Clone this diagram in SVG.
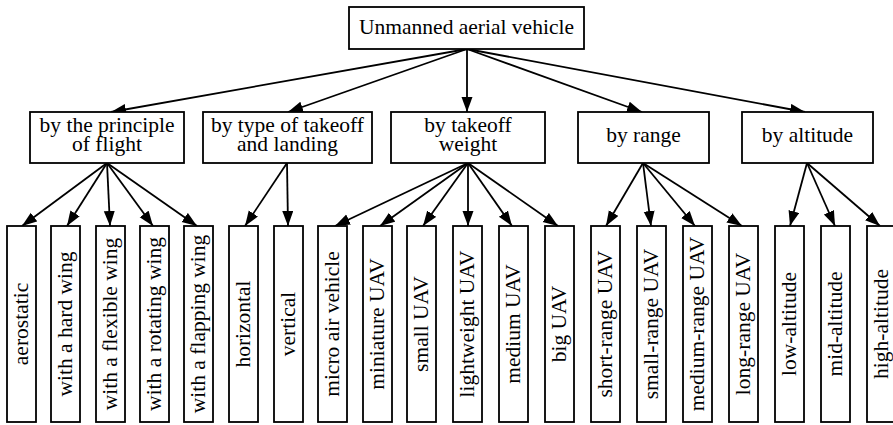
<svg xmlns="http://www.w3.org/2000/svg" width="893" height="425" viewBox="0 0 893 425">
<defs>
<style>
.box{fill:#fff;stroke:#000;stroke-width:1.8}
.t{font-family:"Liberation Serif","Times New Roman",serif;font-size:21.5px;fill:#000;text-anchor:middle}
.e{stroke:#000;stroke-width:1.8;fill:none;marker-end:url(#ah)}
</style>
<marker id="ah" markerUnits="userSpaceOnUse" markerWidth="16" markerHeight="12" refX="15" refY="5.5" orient="auto" viewBox="0 0 16 12">
<path d="M0,0 L15,5.5 L0,11 z" fill="#000"/>
</marker>
</defs>
<rect width="893" height="425" fill="#fff"/>
<g id="connectors">
<line class="e" x1="467" y1="49" x2="111" y2="112"/>
<line class="e" x1="467" y1="49" x2="288" y2="112"/>
<line class="e" x1="467" y1="49" x2="467" y2="112"/>
<line class="e" x1="467" y1="49" x2="642" y2="112"/>
<line class="e" x1="467" y1="49" x2="805" y2="112"/>
<line class="e" x1="107" y1="163" x2="22" y2="226"/>
<line class="e" x1="107" y1="163" x2="67" y2="226"/>
<line class="e" x1="107" y1="163" x2="110" y2="226"/>
<line class="e" x1="107" y1="163" x2="153" y2="226"/>
<line class="e" x1="107" y1="163" x2="197" y2="226"/>
<line class="e" x1="287" y1="163" x2="245" y2="226"/>
<line class="e" x1="287" y1="163" x2="288" y2="226"/>
<line class="e" x1="468" y1="163" x2="335" y2="226"/>
<line class="e" x1="468" y1="163" x2="380" y2="226"/>
<line class="e" x1="468" y1="163" x2="423" y2="226"/>
<line class="e" x1="468" y1="163" x2="468" y2="226"/>
<line class="e" x1="468" y1="163" x2="512" y2="226"/>
<line class="e" x1="468" y1="163" x2="558" y2="226"/>
<line class="e" x1="643" y1="163" x2="606" y2="226"/>
<line class="e" x1="643" y1="163" x2="651" y2="226"/>
<line class="e" x1="643" y1="163" x2="695" y2="226"/>
<line class="e" x1="643" y1="163" x2="742" y2="226"/>
<line class="e" x1="807" y1="163" x2="790" y2="226"/>
<line class="e" x1="807" y1="163" x2="835" y2="226"/>
<line class="e" x1="807" y1="163" x2="880" y2="226"/>
</g>
<g id="root"><rect class="box" x="349" y="7" width="235" height="42"/><text class="t" x="466.5" y="33.5">Unmanned aerial vehicle</text></g>
<g id="principle"><rect class="box" x="30" y="112" width="154" height="51"/><text class="t" x="107" y="132">by the principle</text><text class="t" x="107" y="150.5">of flight</text></g>
<g id="takeoff-landing"><rect class="box" x="203" y="112" width="169" height="51"/><text class="t" x="287.5" y="132">by type of takeoff</text><text class="t" x="287.5" y="150.5">and landing</text></g>
<g id="takeoff-weight"><rect class="box" x="391" y="112" width="154" height="51"/><text class="t" x="468" y="132">by takeoff</text><text class="t" x="468" y="150.5">weight</text></g>
<g id="range"><rect class="box" x="578" y="112" width="131" height="51"/><text class="t" x="643.5" y="142">by range</text></g>
<g id="altitude"><rect class="box" x="742" y="112" width="131" height="51"/><text class="t" x="807.5" y="142">by altitude</text></g>
<g id="aerostatic"><rect class="box" x="7" y="226" width="29" height="196"/><text class="t" transform="translate(28,324) rotate(-90)">aerostatic</text></g>
<g id="hard-wing"><rect class="box" x="51" y="226" width="29" height="196"/><text class="t" transform="translate(72,324) rotate(-90)">with a hard wing</text></g>
<g id="flexible-wing"><rect class="box" x="96" y="226" width="29" height="196"/><text class="t" transform="translate(117,324) rotate(-90)">with a flexible wing</text></g>
<g id="rotating-wing"><rect class="box" x="140" y="226" width="29" height="196"/><text class="t" transform="translate(161,324) rotate(-90)">with a rotating wing</text></g>
<g id="flapping-wing"><rect class="box" x="184" y="226" width="29" height="196"/><text class="t" transform="translate(205,324) rotate(-90)">with a flapping wing</text></g>
<g id="horizontal"><rect class="box" x="229" y="226" width="29" height="196"/><text class="t" transform="translate(250,324) rotate(-90)">horizontal</text></g>
<g id="vertical"><rect class="box" x="274" y="226" width="29" height="196"/><text class="t" transform="translate(295,324) rotate(-90)">vertical</text></g>
<g id="micro"><rect class="box" x="318" y="226" width="29" height="196"/><text class="t" transform="translate(339,324) rotate(-90)">micro air vehicle</text></g>
<g id="miniature"><rect class="box" x="363" y="226" width="29" height="196"/><text class="t" transform="translate(384,324) rotate(-90)">miniature UAV</text></g>
<g id="small"><rect class="box" x="407" y="226" width="29" height="196"/><text class="t" transform="translate(428,324) rotate(-90)">small UAV</text></g>
<g id="lightweight"><rect class="box" x="453" y="226" width="29" height="196"/><text class="t" transform="translate(474,324) rotate(-90)">lightweight UAV</text></g>
<g id="medium"><rect class="box" x="499" y="226" width="29" height="196"/><text class="t" transform="translate(520,324) rotate(-90)">medium UAV</text></g>
<g id="big"><rect class="box" x="545" y="226" width="29" height="196"/><text class="t" transform="translate(566,324) rotate(-90)">big UAV</text></g>
<g id="short-range"><rect class="box" x="591" y="226" width="29" height="196"/><text class="t" transform="translate(612,324) rotate(-90)">short-range UAV</text></g>
<g id="small-range"><rect class="box" x="637" y="226" width="29" height="196"/><text class="t" transform="translate(658,324) rotate(-90)">small-range UAV</text></g>
<g id="medium-range"><rect class="box" x="683" y="226" width="29" height="196"/><text class="t" transform="translate(704,324) rotate(-90)">medium-range UAV</text></g>
<g id="long-range"><rect class="box" x="729" y="226" width="29" height="196"/><text class="t" transform="translate(750,324) rotate(-90)">long-range UAV</text></g>
<g id="low-altitude"><rect class="box" x="775" y="226" width="29" height="196"/><text class="t" transform="translate(796,324) rotate(-90)">low-altitude</text></g>
<g id="mid-altitude"><rect class="box" x="821" y="226" width="29" height="196"/><text class="t" transform="translate(842,324) rotate(-90)">mid-altitude</text></g>
<g id="high-altitude"><rect class="box" x="867" y="226" width="29" height="196"/><text class="t" transform="translate(888,324) rotate(-90)">high-altitude</text></g>
</svg>
